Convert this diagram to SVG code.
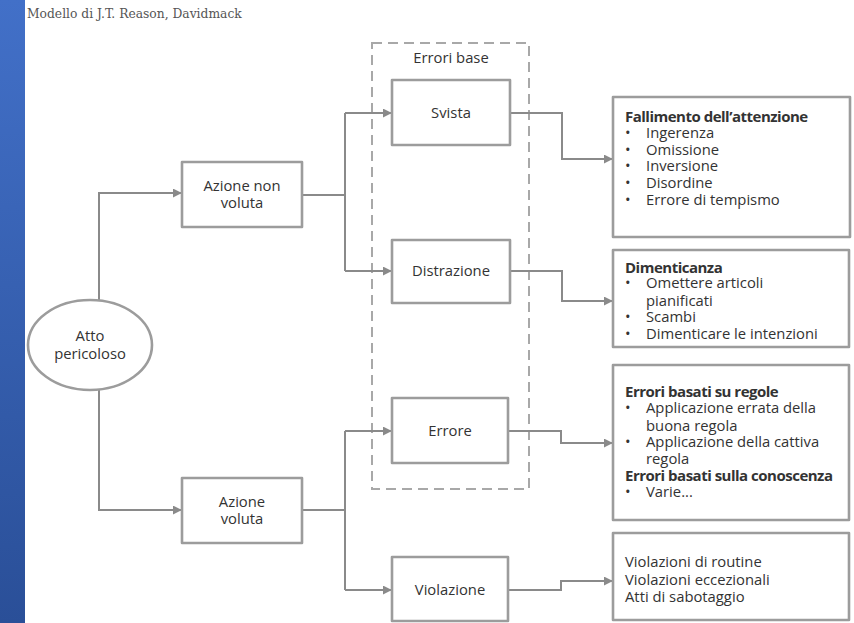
<svg xmlns="http://www.w3.org/2000/svg" width="854" height="623" viewBox="0 0 854 623">
<defs>
<linearGradient id="bar" x1="0" y1="0" x2="0" y2="1">
<stop offset="0" stop-color="#4270c8"/>
<stop offset="1" stop-color="#2a4f98"/>
</linearGradient>
<marker id="arr" viewBox="0 0 10 10" refX="9" refY="5" markerWidth="9" markerHeight="9" markerUnits="userSpaceOnUse" orient="auto">
<path d="M0,0 L10,5 L0,10 z" fill="#8a8a8a"/>
</marker>
<style>
.box{fill:#fff;stroke:#9c9c9c;stroke-width:2.6;stroke-linejoin:round}
.con{fill:none;stroke:#8a8a8a;stroke-width:2}
.t{font-family:"Open Sans","Noto Sans",sans-serif;font-size:14.8px;fill:#333}
.c{text-anchor:middle}
.b{font-weight:bold;font-size:15px;letter-spacing:-0.5px}
.title{font-family:"DejaVu Serif","Liberation Serif",serif;font-size:12.3px;fill:#555}
</style>
</defs>
<rect width="854" height="623" fill="#fff"/>
<rect x="0" y="0" width="25" height="623" fill="url(#bar)"/>
<text class="title" x="27" y="18">Modello di J.T. Reason, Davidmack</text>

<g id="errori-base">
<rect x="372" y="43" width="157" height="446" fill="none" stroke="#a8a8a8" stroke-width="2" stroke-dasharray="10 6"/>
<text class="t c" x="451" y="63">Errori base</text>
</g>

<g id="connectors">
<path class="con" d="M99,300 V193 H181" marker-end="url(#arr)"/>
<path class="con" d="M99,390 V510 H181" marker-end="url(#arr)"/>
<path class="con" d="M302,195 H345"/>
<path class="con" d="M345,113 V271"/>
<path class="con" d="M345,113 H391" marker-end="url(#arr)"/>
<path class="con" d="M345,271 H391" marker-end="url(#arr)"/>
<path class="con" d="M302,510 H345"/>
<path class="con" d="M345,431 V590"/>
<path class="con" d="M345,431 H391" marker-end="url(#arr)"/>
<path class="con" d="M345,590 H391" marker-end="url(#arr)"/>
<path class="con" d="M510,113 H562 V159 H612" marker-end="url(#arr)"/>
<path class="con" d="M510,271 H562 V301 H612" marker-end="url(#arr)"/>
<path class="con" d="M508,431 H561 V443 H612" marker-end="url(#arr)"/>
<path class="con" d="M508,590 H561 V581 H612" marker-end="url(#arr)"/>
</g>

<g id="atto-pericoloso">
<ellipse cx="90" cy="345" rx="62" ry="45" fill="#fff" stroke="#9c9c9c" stroke-width="2.6"/>
<text class="t c" x="90" y="341">Atto</text>
<text class="t c" x="90" y="359">pericoloso</text>
</g>

<g id="azione-non-voluta">
<rect class="box" x="182" y="162" width="120" height="65"/>
<text class="t c" x="242" y="191">Azione non</text>
<text class="t c" x="242" y="208">voluta</text>
</g>

<g id="azione-voluta">
<rect class="box" x="182" y="478" width="120" height="65"/>
<text class="t c" x="242" y="507">Azione</text>
<text class="t c" x="242" y="524">voluta</text>
</g>

<g id="svista">
<rect class="box" x="392" y="80" width="118" height="65"/>
<text class="t c" x="451" y="118">Svista</text>
</g>

<g id="distrazione">
<rect class="box" x="392" y="240" width="118" height="63"/>
<text class="t c" x="451" y="276">Distrazione</text>
</g>

<g id="errore">
<rect class="box" x="392" y="398" width="116" height="65"/>
<text class="t c" x="450" y="436">Errore</text>
</g>

<g id="violazione">
<rect class="box" x="392" y="557" width="116" height="64"/>
<text class="t c" x="450" y="595">Violazione</text>
</g>

<g id="fallimento">
<rect class="box" x="613" y="97" width="237" height="140"/>
<text class="t b" x="625" y="122">Fallimento dell’attenzione</text>
<text class="t" x="625" y="138">•</text><text class="t" x="646" y="138">Ingerenza</text>
<text class="t" x="625" y="155">•</text><text class="t" x="646" y="155">Omissione</text>
<text class="t" x="625" y="171">•</text><text class="t" x="646" y="171">Inversione</text>
<text class="t" x="625" y="188">•</text><text class="t" x="646" y="188">Disordine</text>
<text class="t" x="625" y="205">•</text><text class="t" x="646" y="205">Errore di tempismo</text>
</g>

<g id="dimenticanza">
<rect class="box" x="613" y="250" width="236" height="97"/>
<text class="t b" x="625" y="273">Dimenticanza</text>
<text class="t" x="625" y="288">•</text><text class="t" x="646" y="288">Omettere articoli</text>
<text class="t" x="646" y="306">pianificati</text>
<text class="t" x="625" y="322">•</text><text class="t" x="646" y="322">Scambi</text>
<text class="t" x="625" y="339">•</text><text class="t" x="646" y="339">Dimenticare le intenzioni</text>
</g>

<g id="errori-basati">
<rect class="box" x="613" y="365" width="236" height="155"/>
<text class="t b" x="625" y="397">Errori basati su regole</text>
<text class="t" x="625" y="413">•</text><text class="t" x="646" y="413">Applicazione errata della</text>
<text class="t" x="646" y="431">buona regola</text>
<text class="t" x="625" y="447">•</text><text class="t" x="646" y="447">Applicazione della cattiva</text>
<text class="t" x="646" y="464">regola</text>
<text class="t b" x="625" y="481">Errori basati sulla conoscenza</text>
<text class="t" x="625" y="497">•</text><text class="t" x="646" y="497">Varie...</text>
</g>

<g id="violazioni">
<rect class="box" x="613" y="533" width="236" height="87"/>
<text class="t" x="625" y="567">Violazioni di routine</text>
<text class="t" x="625" y="585">Violazioni eccezionali</text>
<text class="t" x="625" y="602">Atti di sabotaggio</text>
</g>
</svg>
